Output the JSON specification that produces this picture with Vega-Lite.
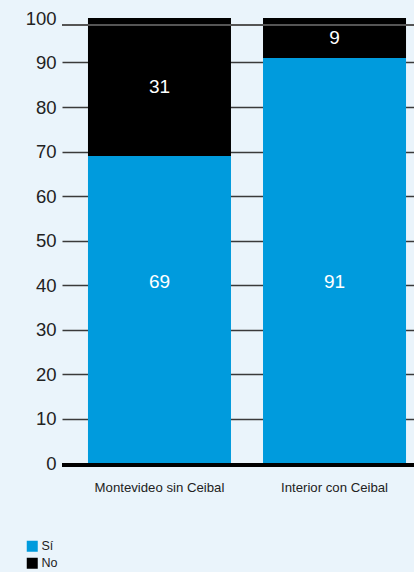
{
  "$schema": "https://vega.github.io/schema/vega-lite/v6.json",
  "width": 352,
  "height": 445,
  "autosize": "none",
  "padding": {"left": 62, "top": 18, "right": 0, "bottom": 109},
  "background": "#eaf4fb",
  "config": {
    "view": {"stroke": null},
    "font": "Liberation Sans, sans-serif"
  },
  "data": {
    "values": [
      {"region": "Montevideo sin Ceibal", "resp": "Sí", "value": 69, "ord": 1},
      {"region": "Montevideo sin Ceibal", "resp": "No", "value": 31, "ord": 2},
      {"region": "Interior con Ceibal", "resp": "Sí", "value": 91, "ord": 1},
      {"region": "Interior con Ceibal", "resp": "No", "value": 9, "ord": 2}
    ]
  },
  "encoding": {
    "x": {
      "field": "region",
      "type": "nominal",
      "sort": null,
      "scale": {"paddingInner": 0.183, "paddingOuter": 0.097, "align": 0.765},
      "axis": {
        "title": null,
        "domain": false,
        "ticks": false,
        "labelAngle": 0,
        "labelFontSize": 13.2,
        "labelColor": "#222222",
        "labelPadding": 18
      }
    }
  },
  "layer": [
    {
      "mark": {"type": "bar"},
      "encoding": {
        "y": {
          "field": "value",
          "type": "quantitative",
          "stack": "zero",
          "scale": {"domain": [0, 100], "nice": false},
          "axis": {
            "title": null,
            "values": [0, 10, 20, 30, 40, 50, 60, 70, 80, 90, 100],
            "domain": false,
            "ticks": false,
            "grid": true,
            "gridColor": "#3a3a3a",
            "gridWidth": 1.3,
            "gridOpacity": {"condition": {"test": "datum.value === 100 || datum.value === 0", "value": 0}, "value": 1},
            "labelFontSize": 18.5,
            "labelColor": "#222222",
            "labelPadding": 6,
            "zindex": 0
          }
        },
        "color": {
          "field": "resp",
          "type": "nominal",
          "scale": {"domain": ["Sí", "No"], "range": ["#009bdd", "#000000"]},
          "legend": {
            "title": null,
            "orient": "none",
            "legendX": -36,
            "legendY": 522,
            "symbolType": "square",
            "symbolSize": 121,
            "symbolStrokeWidth": 0,
            "symbolOpacity": 1,
            "labelFontSize": 12.5,
            "labelColor": "#222222",
            "labelOffset": 3,
            "rowPadding": 4,
            "padding": 0
          }
        },
        "order": {"field": "ord", "type": "quantitative"}
      }
    },
    {
      "mark": {"type": "rule", "color": "#555555", "strokeWidth": 2},
      "encoding": {"y": {"datum": 98.4, "type": "quantitative"}, "x": {"value": 0}, "x2": {"value": 352}}
    },
    {
      "mark": {"type": "rule", "color": "#000000", "strokeWidth": 4, "yOffset": 2},
      "encoding": {"y": {"datum": 0, "type": "quantitative"}, "x": {"value": 0}, "x2": {"value": 352}}
    },
    {
      "mark": {"type": "text", "color": "white", "fontSize": 19, "baseline": "middle"},
      "encoding": {
        "y": {"field": "value", "type": "quantitative", "stack": "zero", "bandPosition": 0.5},
        "order": {"field": "ord", "type": "quantitative"},
        "text": {"condition": {"test": "datum.resp === 'No'", "field": "value"}, "value": ""}
      }
    },
    {
      "transform": [{"filter": "datum.resp === 'Sí'"}],
      "mark": {"type": "text", "color": "white", "fontSize": 19, "baseline": "middle"},
      "encoding": {
        "y": {"datum": 40.7, "type": "quantitative"},
        "text": {"field": "value"}
      }
    }
  ]
}
